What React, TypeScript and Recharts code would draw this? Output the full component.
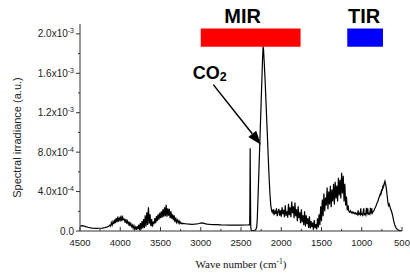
import React from 'react';
import {
  LineChart,
  Line,
  XAxis,
  YAxis,
  ReferenceArea,
  ReferenceLine,
  ReferenceDot,
} from 'recharts';

const SANS = '"Liberation Sans", Arial, sans-serif';
const SERIF = '"Liberation Serif", "Times New Roman", serif';
const AXIS = '#333';

// x axis: wave number (cm-1), drawn reversed
const xMajorTicks = [4500, 4000, 3500, 3000, 2500, 2000, 1500, 1000, 500];
const xMinorTicks = [4250, 3750, 3250, 2750, 2250, 1750, 1250, 750];

// y axis: spectral irradiance in units of 1e-4
const yMajorTicks = [0, 4, 8, 12, 16, 20];
const yMinorTicks = [2, 6, 10, 14, 18];
const yTickMantissa = ['0.0', '4.0x10', '8.0x10', '1.2x10', '1.6x10', '2.0x10'];
const yTickExponent = ['', '-4', '-4', '-3', '-3', '-3'];

// spectral bands shown above the spectrum
const mirBand = [3000, 1760];
const tirBand = [1180, 736];
const bandLevels = [18.7, 20.55];

// spectrum pieces: [wave number, irradiance x1e-4]
const startPairs = [
  [4500, 0.5], [4480, 0.55], [4460, 0.52], [4430, 0.45], [4400, 0.38],
  [4370, 0.32], [4340, 0.29], [4300, 0.27], [4260, 0.28], [4220, 0.3],
  [4190, 0.35], [4160, 0.42], [4140, 0.5],
];

// noisy stretch, every 10 cm-1 from 4130
const noiseA = [
  0.6, 0.5, 0.85, 0.6, 0.95, 0.7, 1.15, 0.8, 1.3, 0.9,
  1.45, 0.95, 1.3, 1.1, 1.55, 1.0, 1.4, 1.15, 1.2, 0.85,
  1.2, 0.75, 1.0, 0.7, 0.95, 0.5, 0.85, 0.45, 0.6, 0.28,
  0.55, 0.18, 0.4, 0.12, 0.5, 0.2, 0.65, 0.08, 0.8, 0.15,
  1.0, 0.25, 1.2, 0.3, 1.6, 0.45, 1.9, 0.6, 2.4, 0.75,
  1.7, 0.5, 1.2, 0.45, 0.95, 0.7, 1.3, 0.8, 1.5, 1.0,
  1.7, 1.15, 1.85, 1.3, 2.0, 1.35, 2.2, 1.45, 2.4, 1.5,
  2.65, 1.45, 2.3, 1.55, 2.25, 1.3, 2.0, 1.25, 1.7, 1.1,
  1.6, 0.9, 1.35, 0.88, 1.1, 0.82, 1.05, 0.76, 0.9, 0.75,
];

const midPairs = [
  [3220, 0.78], [3200, 0.75], [3170, 0.72], [3140, 0.7], [3110, 0.68],
  [3080, 0.69], [3050, 0.72], [3020, 0.76], [2990, 0.82], [2970, 0.8],
  [2950, 0.75], [2920, 0.7], [2880, 0.67], [2840, 0.65], [2800, 0.64],
  [2750, 0.62], [2700, 0.61], [2650, 0.6], [2600, 0.6], [2550, 0.6],
  [2500, 0.6], [2450, 0.61], [2410, 0.62], [2392, 0.63],
];

const co2Pairs = [
  [2389, 3.5], [2386, 8.4], [2383, 4.5], [2379, 0.4], [2372, 0.05],
  [2355, 0.03], [2330, 0.05], [2315, 0.15], [2305, 0.4], [2298, 1.2],
  [2290, 3.0], [2280, 5.5], [2270, 8.0], [2260, 10.5], [2250, 13],
  [2240, 15.5], [2232, 17.5], [2226, 18.7], [2220, 18.4], [2212, 17.2],
  [2200, 15.2], [2190, 13.2], [2180, 11.2], [2170, 9.2], [2160, 7.2],
  [2150, 5.3], [2140, 3.7], [2130, 2.6], [2120, 2.1], [2112, 1.9],
];

// noisy stretch, every 10 cm-1 from 2100
const noiseB = [
  2.2, 1.6, 2.0, 1.75, 2.3, 1.5, 1.95, 2.25, 1.55, 2.1,
  1.45, 2.4, 1.7, 2.15, 1.4, 2.6, 1.55, 2.0, 1.35, 2.75,
  1.6, 2.4, 1.4, 3.0, 1.8, 2.5, 1.3, 2.9, 1.5, 2.2,
  1.0, 2.5, 1.3, 1.9, 0.8, 2.2, 0.9, 1.6, 0.6, 2.0,
  0.45, 1.6, 0.7, 1.3, 0.3, 1.5, 0.25, 1.0, 0.4, 0.85,
  0.12, 1.1, 0.3, 0.7, 0.15, 1.3, 0.35, 1.7, 0.6, 2.5,
  1.0, 3.2, 1.5, 3.8, 2.0, 3.4, 2.6, 4.4, 2.2, 4.0,
  2.7, 4.6, 2.4, 4.2, 3.0, 4.8, 2.7, 5.0, 3.3, 4.6,
  3.0, 5.4, 3.6, 5.2, 3.3, 5.9, 3.8, 5.6, 3.0, 4.8,
  2.6, 3.5, 2.1, 2.6, 2.0,
];

const tailPairs = [
  [1150, 1.9], [1140, 2.05], [1130, 1.85], [1120, 1.95], [1110, 1.8],
  [1100, 1.9], [1090, 1.75], [1080, 1.85], [1070, 1.7], [1060, 1.8],
  [1050, 1.65], [1045, 2.1], [1040, 1.7], [1030, 1.8], [1020, 1.65],
  [1012, 2.3], [1008, 1.7], [1000, 1.75], [990, 1.6], [975, 2.3],
  [970, 1.65], [960, 1.75], [950, 1.6], [942, 2.35], [938, 1.7],
  [925, 2.3], [920, 1.7], [910, 1.8], [900, 1.7], [892, 2.35],
  [888, 1.75], [875, 2.3], [870, 1.8], [860, 1.95], [850, 2.05],
  [840, 2.25], [830, 2.4], [820, 2.6], [810, 2.85], [800, 3.0],
  [790, 3.3], [780, 3.5], [770, 3.8], [765, 3.6], [760, 3.95],
  [755, 3.9], [750, 4.25], [745, 4.1], [740, 4.4], [735, 4.3],
  [730, 4.7], [725, 4.55], [720, 4.85], [712, 5.05], [705, 4.8],
  [698, 4.5], [690, 4.0], [682, 3.4], [675, 2.9], [668, 2.6],
  [660, 2.75], [652, 2.55], [645, 2.3], [635, 2.1], [625, 1.85],
  [615, 1.5], [605, 1.1], [595, 0.75], [585, 0.5], [575, 0.32],
  [560, 0.18], [545, 0.1], [525, 0.04], [505, 0.01], [500, 0.0],
];

// CO2 annotation: label anchor and arrow (from, to)
const co2LabelAt = [3100, 15.46];
const co2Arrow = [[2844, 14.85], [2252, 8.75]];

const stepped = (start: number, values: number[]) =>
  values.map((v, i) => [start - i * 10, v]);

const spectrum = [
  ...startPairs,
  ...stepped(4130, noiseA),
  ...midPairs,
  ...co2Pairs,
  ...stepped(2100, noiseB),
  ...tailPairs,
].map(([wn, v]) => ({ wn, v }));

const xTicks = [...xMajorTicks, ...xMinorTicks];
const yTicks = [...yMajorTicks, ...yMinorTicks];

const BottomTick = (props: any) => {
  const { x, y, payload } = props;
  const major = xMajorTicks.includes(payload.value);
  return (
    <g>
      <line x1={x} x2={x} y1={y} y2={y - (major ? 4 : 2)} stroke={AXIS} />
      {major && (
        <text
          x={x}
          y={y + 15}
          textAnchor="middle"
          fontSize={9.5}
          fontFamily={SANS}
          fill="#222"
        >
          {payload.value}
        </text>
      )}
    </g>
  );
};

const TopTick = (props: any) => {
  const { x, y, payload } = props;
  const major = xMajorTicks.includes(payload.value);
  return <line x1={x} x2={x} y1={y} y2={y + (major ? 4 : 2)} stroke={AXIS} />;
};

const LeftTick = (props: any) => {
  const { x, y, payload } = props;
  const i = yMajorTicks.indexOf(payload.value);
  return (
    <g>
      <line x1={x - (i >= 0 ? 4 : 2)} x2={x} y1={y} y2={y} stroke={AXIS} />
      {i >= 0 && (
        <text
          x={x - 6}
          y={y + 3.5}
          textAnchor="end"
          fontSize={10}
          fontFamily={SANS}
          fill="#222"
        >
          {yTickMantissa[i]}
          {yTickExponent[i] && (
            <tspan dy={-4} fontSize={7}>
              {yTickExponent[i]}
            </tspan>
          )}
        </text>
      )}
    </g>
  );
};

const RightTick = (props: any) => {
  const { x, y, payload } = props;
  const major = yMajorTicks.includes(payload.value);
  return <line x1={x - (major ? 4 : 2)} x2={x} y1={y} y2={y} stroke={AXIS} />;
};

const xTitle = (props: any) => {
  const vb = props.viewBox;
  return (
    <text
      x={vb.x + vb.width / 2}
      y={vb.y + 37}
      textAnchor="middle"
      fontSize={11}
      fontFamily={SERIF}
      fill="#111"
    >
      Wave number (cm
      <tspan dy={-4} fontSize={7.5}>-1</tspan>
      <tspan dy={4}>)</tspan>
    </text>
  );
};

const yTitle = (props: any) => {
  const vb = props.viewBox;
  const cx = 21;
  const cy = vb.y + vb.height / 2 + 10;
  return (
    <text
      x={cx}
      y={cy}
      transform={`rotate(-90, ${cx}, ${cy})`}
      textAnchor="middle"
      fontSize={11}
      fontFamily={SANS}
      fill="#222"
    >
      Spectral irradiance (a.u.)
    </text>
  );
};

const bandLabel = (text: string, shift: number) => (props: any) => {
  const vb = props.viewBox;
  return (
    <text
      x={vb.x + vb.width / 2 + shift}
      y={vb.y - 5.5}
      textAnchor="middle"
      fontSize={20}
      fontWeight="bold"
      fontFamily={SANS}
      fill="#000"
    >
      {text}
    </text>
  );
};

const co2Label = (props: any) => {
  const vb = props.viewBox;
  return (
    <text
      x={vb.x}
      y={vb.y}
      fontSize={18}
      fontWeight="bold"
      fontFamily={SANS}
      fill="#000"
    >
      CO
      <tspan dy={2} fontSize={12.5}>2</tspan>
    </text>
  );
};

const arrowShape = (props: any) => {
  const { x1, y1, x2, y2 } = props;
  const ang = Math.atan2(y2 - y1, x2 - x1);
  const len = 14;
  const half = 5;
  const bx = x2 - len * Math.cos(ang);
  const by = y2 - len * Math.sin(ang);
  const px = -Math.sin(ang) * half;
  const py = Math.cos(ang) * half;
  return (
    <g>
      <line x1={x1} y1={y1} x2={bx} y2={by} stroke="#000" strokeWidth={1.5} />
      <polygon
        points={`${x2},${y2} ${bx + px},${by + py} ${bx - px},${by - py}`}
        fill="#000"
      />
    </g>
  );
};

const App = () => {
  return (
    <div style={{ position: 'absolute', left: 0, top: 0 }}>
      <LineChart
        width={410}
        height={274}
        data={spectrum}
        margin={{ top: 24, right: 8, bottom: 0, left: 0 }}
      >
        <XAxis
          dataKey="wn"
          type="number"
          domain={[500, 4500]}
          reversed
          allowDataOverflow
          ticks={xTicks}
          interval={0}
          height={43}
          tickSize={0}
          tickMargin={0}
          tickLine={false}
          tick={<BottomTick />}
          axisLine={{ stroke: AXIS }}
          label={xTitle}
        />
        <XAxis
          xAxisId="top"
          orientation="top"
          type="number"
          domain={[500, 4500]}
          reversed
          allowDataOverflow
          ticks={xTicks}
          interval={0}
          height={0}
          tickSize={0}
          tickMargin={0}
          tickLine={false}
          tick={<TopTick />}
          axisLine={{ stroke: AXIS }}
        />
        <YAxis
          type="number"
          domain={[0, 21]}
          allowDataOverflow
          ticks={yTicks}
          interval={0}
          width={80}
          tickSize={0}
          tickMargin={0}
          tickLine={false}
          tick={<LeftTick />}
          axisLine={{ stroke: AXIS }}
          label={yTitle}
        />
        <YAxis
          yAxisId="right"
          orientation="right"
          type="number"
          domain={[0, 21]}
          allowDataOverflow
          ticks={yTicks}
          interval={0}
          width={0}
          tickSize={0}
          tickMargin={0}
          tickLine={false}
          tick={<RightTick />}
          axisLine={{ stroke: AXIS }}
        />
        <ReferenceArea
          x1={mirBand[0]}
          x2={mirBand[1]}
          y1={bandLevels[0]}
          y2={bandLevels[1]}
          fill="#ff0000"
          fillOpacity={1}
          stroke="none"
          label={bandLabel('MIR', -8)}
        />
        <ReferenceArea
          x1={tirBand[0]}
          x2={tirBand[1]}
          y1={bandLevels[0]}
          y2={bandLevels[1]}
          fill="#0000ff"
          fillOpacity={1}
          stroke="none"
          label={bandLabel('TIR', -1)}
        />
        <Line
          dataKey="v"
          type="linear"
          stroke="#000"
          strokeWidth={1.2}
          dot={false}
          activeDot={false}
          isAnimationActive={false}
        />
        <ReferenceLine
          segment={[
            { x: co2Arrow[0][0], y: co2Arrow[0][1] },
            { x: co2Arrow[1][0], y: co2Arrow[1][1] },
          ]}
          shape={arrowShape}
        />
        <ReferenceDot
          x={co2LabelAt[0]}
          y={co2LabelAt[1]}
          r={0}
          fill="none"
          stroke="none"
          label={co2Label}
        />
      </LineChart>
    </div>
  );
};

export default App;
